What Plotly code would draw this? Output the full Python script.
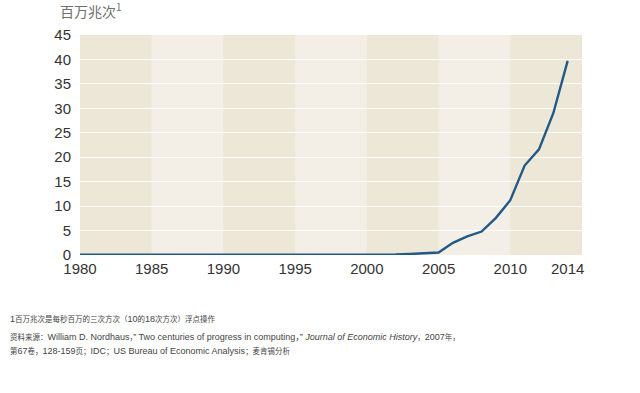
import plotly.graph_objects as go

years = list(range(1980, 2015))
values = [0.05, 0.05, 0.05, 0.05, 0.05, 0.08, 0.1, 0.12, 0.15, 0.15,
          0.12, 0.1, 0.1, 0.1, 0.1, 0.1, 0.1, 0.1, 0.08, 0.05,
          0.05, 0.02, 0.1, 0.2, 0.35, 0.5, 2.5, 3.8, 4.8, 7.6,
          11.2, 18.3, 21.6, 29.0, 39.7]

x_ticks = [1980, 1985, 1990, 1995, 2000, 2005, 2010, 2014]
y_ticks = [0, 5, 10, 15, 20, 25, 30, 35, 40, 45]
band_edges = [1980, 1985, 1990, 1995, 2000, 2005, 2010, 2015]
band_colors = ["#EDE7D7", "#F3EFE6"]

CJK = '<span style="font-size:7.5px">'
E = '</span>'
y_title = "百万兆次<sup>1</sup>"
footnote = f"1{CJK}百万兆次是每秒百万的三次方次（{E}10{CJK}的{E}18{CJK}次方次）浮点操作{E}"
source1 = (f"{CJK}资料来源：{E}William D. Nordhaus{CJK}，{E}” Two centuries of progress in computing，” "
           f"<i>Journal of Economic History</i>{CJK}，{E}2007{CJK}年，{E}")
source2 = f"{CJK}第{E}67{CJK}卷，{E}128-159{CJK}页；{E}IDC{CJK}；{E}US Bureau of Economic Analysis{CJK}；麦肯锡分析{E}"

fig = go.Figure()

shapes = []
for i in range(len(band_edges) - 1):
    shapes.append(dict(type="rect", xref="x", yref="paper",
                       x0=band_edges[i], x1=band_edges[i + 1], y0=0, y1=1,
                       fillcolor=band_colors[i % 2], line_width=0, layer="below"))

fig.add_trace(go.Scatter(x=years, y=values, mode="lines",
                         line=dict(color="#215A87", width=2.4),
                         cliponaxis=False, hoverinfo="skip"))

font_main = "Liberation Sans, Arial, Noto Sans CJK SC, sans-serif"

fig.update_layout(
    width=640, height=393,
    margin=dict(l=80, r=58, t=35, b=138),
    paper_bgcolor="white",
    plot_bgcolor="#F0EADD",
    showlegend=False,
    shapes=shapes,
    font=dict(family=font_main, color="#333333"),
    xaxis=dict(range=[1980, 2015], tickvals=x_ticks,
               ticktext=[str(t) for t in x_ticks],
               showgrid=False, zeroline=False, showline=False,
               ticks="", tickfont=dict(size=15, color="#333333"),
               ticklabelstandoff=3),
    yaxis=dict(range=[0, 45], tickvals=y_ticks,
               showgrid=True, gridcolor="#FFFFFF", gridwidth=1,
               zeroline=False, showline=False, ticks="",
               tickfont=dict(size=15, color="#333333"), ticklabelstandoff=8),
)

fig.add_annotation(text=y_title, xref="paper", yref="paper",
                   x=-0.044, y=1.0, yshift=25, xanchor="left", yanchor="middle",
                   showarrow=False,
                   font=dict(size=14, color="#6E6E6E",
                             family="Noto Sans CJK SC, sans-serif"))
note_font = dict(size=9, color="#444444", family=font_main)
fig.add_annotation(text=footnote, xref="paper", yref="paper",
                   x=-0.1434, y=0, yshift=-57, xanchor="left", yanchor="top",
                   showarrow=False, font=note_font)
fig.add_annotation(text=source1, xref="paper", yref="paper",
                   x=-0.1434, y=0, yshift=-75, xanchor="left", yanchor="top",
                   showarrow=False, font=note_font)
fig.add_annotation(text=source2, xref="paper", yref="paper",
                   x=-0.1434, y=0, yshift=-89, xanchor="left", yanchor="top",
                   showarrow=False, font=note_font)

fig.write_html("out.html",
               config={"displayModeBar": False},
               post_script="document.body.style.margin='0';"
                           "document.body.style.overflow='hidden';")
